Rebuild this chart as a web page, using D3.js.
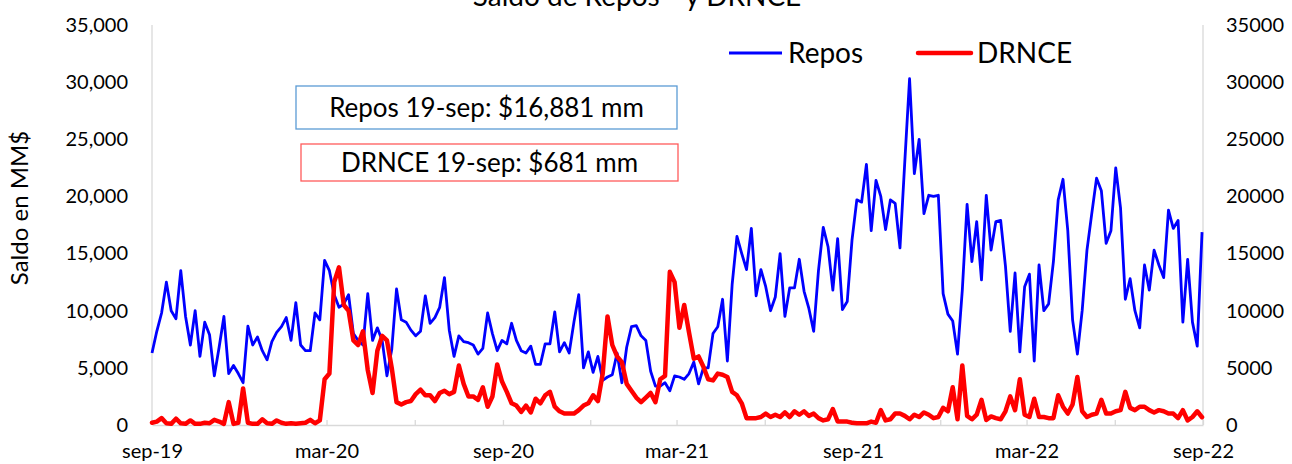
<!DOCTYPE html>
<html>
<head>
<meta charset="utf-8">
<script src="https://cdn.jsdelivr.net/npm/d3@7"></script>
<style>
  body { margin: 0; background: #fff; }
  svg { font-family: Lato, "Open Sans", sans-serif; }
  .axis-line { stroke: #d9d9d9; stroke-width: 1.3; }
</style>
</head>
<body>
<svg width="1292" height="464"></svg>
<script>
// serie cada 5 dias desde 19-sep-2019
const startDate = new Date(2019, 8, 19);
const endDate = new Date(2022, 8, 19);
const stepDays = 5;

const repos = [
  6300, 8200, 9800, 12500, 10000, 9300, 13500, 9500, 7000, 10000,
  6000, 9000, 7900, 4300, 6800, 9500, 4500, 5200, 4500, 3700,
  8650, 7000, 7700, 6500, 5700, 7300, 8100, 8600, 9400, 7400,
  10700, 7000, 6500, 6500, 9800, 9200, 14400, 13500, 11400, 10300,
  10600, 11400, 8000, 7400, 7000, 11500, 7400, 8500, 7400, 4300,
  6600, 11900, 9200, 9000, 8300, 7800, 8200, 11300, 8900, 9400,
  10300, 12900, 8300, 6000, 7800, 7300, 7200, 7000, 6200, 6700,
  9800, 8000, 6500, 7400, 7100, 8900, 7400, 6500, 6300, 6900,
  5300, 5300, 7100, 7100, 9900, 6400, 7200, 6300, 9000, 11400,
  5000, 6400, 4600, 6000, 3900, 4200, 4400, 6300, 3700, 6800,
  8600, 8700, 7800, 7400, 4700, 3400, 3400, 3700, 3000, 4300,
  4200, 4000, 4500, 5500, 3600, 5000, 5000, 8000, 8600, 11000,
  5600, 12300, 16500, 15000, 13600, 17200, 11300, 13600, 12100, 10000,
  11200, 15000, 9500, 12000, 12000, 14500, 11700, 10200, 8200, 13500,
  17300, 15600, 11800, 16300, 10100, 10800, 16200, 19700, 19500, 22800,
  17000, 21400, 20000, 17100, 19700, 19400, 15500, 23000, 30300, 22000,
  25000, 18500, 20100, 20000, 20100, 11500, 9700, 9100, 6200, 11800,
  19300, 14300, 17800, 12700, 20100, 15300, 17800, 17900, 13900, 8200,
  13300, 6400, 12100, 13200, 5600, 14000, 10000, 10600, 14300, 19700,
  21500, 17000, 9200, 6200, 10000, 15300, 18500, 21600, 20500, 15900,
  17000, 22500, 19000, 11000, 12800, 10000, 8500, 14000, 11800, 15300,
  14000, 12900, 18800, 17200, 17900, 9000, 14500, 9000, 6900, 16881
];

const drnce = [
  200, 300, 600, 150, 100, 550, 150, 100, 400, 100,
  100, 200, 150, 450, 300, 100, 2000, 100, 200, 3200,
  200, 100, 100, 500, 150, 100, 400, 200, 100, 150,
  100, 150, 200, 450, 150, 400, 4000, 4500, 12500, 13800,
  10500, 10000, 7400, 7000, 8200, 4800, 2800, 6500, 7800, 7400,
  5000, 2000, 1800, 2000, 2100, 2700, 3100, 2600, 2600, 2100,
  2800, 3000, 2700, 2900, 5200, 3600, 2500, 2500, 2200, 3300,
  1600, 2500, 5300, 3800, 2900, 1900, 1700, 1150, 1700, 1100,
  2300, 1900, 2600, 2900, 1600, 1200, 1000, 1000, 1000, 1300,
  1700, 1900, 2600, 2100, 4500, 9500, 7000, 6000, 5500, 3600,
  3000, 2400, 2000, 2400, 2800, 2000, 4000, 4300, 13400, 12500,
  8500, 10500, 8100, 5800, 6000, 5100, 4000, 3900, 4500, 4400,
  4200, 2900, 2600, 1900, 600, 600, 600, 700, 1000, 700,
  900, 700, 1100, 700, 1200, 900, 1200, 800, 1000, 600,
  400, 500, 1400, 300, 300, 300, 200, 150, 150, 150,
  300, 200, 1300, 400, 500, 1000, 1000, 800, 500, 900,
  700, 1100, 900, 600, 700, 1500, 1200, 3300, 500, 5200,
  800, 500, 900, 2200, 440, 750, 600, 500, 1200, 2500,
  1300, 4000, 900, 700, 2300, 700, 700, 600, 600, 2600,
  1600, 1000, 1800, 4200, 1200, 700, 900, 1000, 2200, 1000,
  1000, 1200, 1300, 2900, 1500, 1300, 1600, 1600, 1300, 1100,
  1300, 1200, 1000, 1000, 600, 1300, 400, 700, 1200, 681
];

const yTicks = [0, 5000, 10000, 15000, 20000, 25000, 30000, 35000];
const mesesEs = ['ene', 'feb', 'mar', 'abr', 'may', 'jun', 'jul', 'ago', 'sep', 'oct', 'nov', 'dic'];

const titulo = 'Saldo de Repos * y DRNCE';
const ejeY = 'Saldo en MM$';
const notaRepos = 'Repos 19-sep: $16,881 mm';
const notaDrnce = 'DRNCE 19-sep: $681 mm';

const svg = d3.select('svg');
const margin = { left: 152, right: 1203, top: 25, bottom: 425 };

const dates = repos.map((v, i) => d3.timeDay.offset(startDate, i * stepDays));

const x = d3.scaleTime()
  .domain([startDate, endDate])
  .range([margin.left, margin.right]);

const y = d3.scaleLinear()
  .domain([0, 35000])
  .range([margin.bottom, margin.top]);

// titulo (cortado arriba como en el original)
svg.append('text')
  .attr('x', 637)
  .attr('y', 6)
  .attr('text-anchor', 'middle')
  .attr('font-size', 28)
  .attr('fill', '#000')
  .text(titulo);

// ejes verticales
svg.append('line').attr('class', 'axis-line')
  .attr('x1', margin.left).attr('x2', margin.left)
  .attr('y1', margin.top).attr('y2', margin.bottom);
svg.append('line').attr('class', 'axis-line')
  .attr('x1', margin.right).attr('x2', margin.right)
  .attr('y1', margin.top).attr('y2', margin.bottom);

// eje x
const xTickVals = d3.range(0, 13).map(k => d3.timeMonth.offset(startDate, 3 * k));
const xAxis = svg.append('g')
  .attr('transform', `translate(0,${margin.bottom})`)
  .call(d3.axisBottom(x)
    .tickValues(xTickVals)
    .tickSizeInner(-5)
    .tickSizeOuter(0)
    .tickPadding(19)
    .tickFormat((d, i) => i % 2 === 0 ? mesesEs[d.getMonth()] + '-' + String(d.getFullYear()).slice(2) : ''));
xAxis.select('.domain').attr('stroke', '#d9d9d9').attr('stroke-width', 1.3);
xAxis.selectAll('.tick line').attr('stroke', '#d9d9d9').attr('stroke-width', 1.3);
xAxis.selectAll('.tick text')
  .attr('font-size', 20)
  .attr('font-family', 'Lato, sans-serif')
  .attr('fill', '#000');

// eje y izquierdo
const yLeft = svg.append('g')
  .attr('transform', `translate(${margin.left},0)`)
  .call(d3.axisLeft(y).tickValues(yTicks).tickSize(0).tickPadding(24)
    .tickFormat(d3.format(',')));
yLeft.select('.domain').remove();
yLeft.selectAll('.tick text')
  .attr('font-size', 20)
  .attr('font-family', 'Lato, sans-serif')
  .attr('fill', '#000');

// eje y derecho
const yRight = svg.append('g')
  .attr('transform', `translate(${margin.right},0)`)
  .call(d3.axisRight(y).tickValues(yTicks).tickSize(0).tickPadding(23)
    .tickFormat(d3.format('d')));
yRight.select('.domain').remove();
yRight.selectAll('.tick text')
  .attr('font-size', 20)
  .attr('font-family', 'Lato, sans-serif')
  .attr('fill', '#000');

// titulo eje y
svg.append('text')
  .attr('transform', 'translate(28,208) rotate(-90)')
  .attr('text-anchor', 'middle')
  .attr('font-size', 24)
  .attr('fill', '#000')
  .text(ejeY);

// lineas
const line = d3.line()
  .x((d, i) => x(dates[i]))
  .y(d => y(d));

svg.append('path')
  .datum(repos)
  .attr('fill', 'none')
  .attr('stroke', '#0000ff')
  .attr('stroke-width', 2.8)
  .attr('stroke-linejoin', 'round')
  .attr('d', line);

svg.append('path')
  .datum(drnce)
  .attr('fill', 'none')
  .attr('stroke', '#ff0000')
  .attr('stroke-width', 4.5)
  .attr('stroke-linejoin', 'round')
  .attr('stroke-linecap', 'round')
  .attr('d', line);

// leyenda
const legend = svg.append('g');
legend.append('line')
  .attr('x1', 729).attr('x2', 782).attr('y1', 53).attr('y2', 53)
  .attr('stroke', '#0000ff').attr('stroke-width', 2.8);
legend.append('text')
  .attr('x', 788).attr('y', 63)
  .attr('font-size', 28)
  .text('Repos');
legend.append('line')
  .attr('x1', 918).attr('x2', 971).attr('y1', 53).attr('y2', 53)
  .attr('stroke', '#ff0000').attr('stroke-width', 4.5)
  .attr('stroke-linecap', 'round');
legend.append('text')
  .attr('x', 977).attr('y', 63)
  .attr('font-size', 28)
  .text('DRNCE');

// cuadros de texto
const notas = [
  { text: notaRepos, x: 296, y: 86, w: 381, h: 43, color: '#5b9bd5' },
  { text: notaDrnce, x: 301, y: 144, w: 377, h: 37, color: '#ff5b5b' }
];
notas.forEach(n => {
  svg.append('rect')
    .attr('x', n.x).attr('y', n.y)
    .attr('width', n.w).attr('height', n.h)
    .attr('fill', '#fff')
    .attr('stroke', n.color)
    .attr('stroke-width', 1.3);
  svg.append('text')
    .attr('x', n.x + n.w / 2)
    .attr('y', n.y + n.h / 2 + 9)
    .attr('text-anchor', 'middle')
    .attr('font-size', 26)
    .text(n.text);
});
</script>
</body>
</html>
